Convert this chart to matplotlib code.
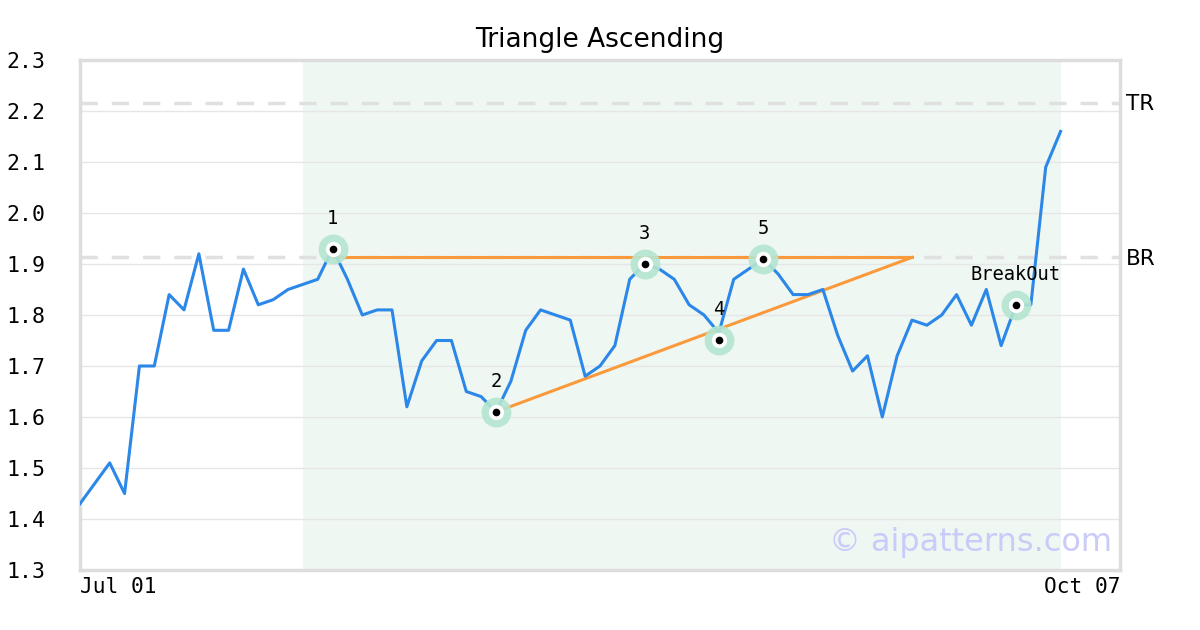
import matplotlib
matplotlib.use("Agg")
import matplotlib.pyplot as plt

# ---- data ----
prices = [1.43, 1.47, 1.51, 1.45, 1.70, 1.70, 1.84, 1.81, 1.92, 1.77,
          1.77, 1.89, 1.82, 1.83, 1.85, 1.86, 1.87, 1.93, 1.87, 1.80,
          1.81, 1.81, 1.62, 1.71, 1.75, 1.75, 1.65, 1.64, 1.61, 1.67,
          1.77, 1.81, 1.80, 1.79, 1.68, 1.70, 1.74, 1.87, 1.90, 1.89,
          1.87, 1.82, 1.80, 1.765, 1.87, 1.89, 1.91, 1.88, 1.84, 1.84,
          1.85, 1.76, 1.69, 1.72, 1.60, 1.72, 1.79, 1.78, 1.80, 1.84,
          1.78, 1.85, 1.74, 1.82, 1.82, 2.09, 2.16]
x_idx = list(range(len(prices)))
x_labels = ["Jul 01", "Oct 07"]
x_limits = [0, 70]

pivot_idx = [17, 28, 38, 43, 46, 63]
pivot_val = [1.93, 1.61, 1.90, 1.75, 1.91, 1.82]
pivot_lbl = ["1", "2", "3", "4", "5", "BreakOut"]

res_x = [17, 56]
res_y = [1.913, 1.913]
sup_x = [28, 56]
sup_y = [1.61, 1.913]

level_names = ["TR", "BR"]
level_vals = [2.216, 1.913]

shade_range = [15, 66]
y_ticks = [1.3, 1.4, 1.5, 1.6, 1.7, 1.8, 1.9, 2.0, 2.1, 2.2, 2.3]

title = "Triangle Ascending"
watermark = "© aipatterns.com"

# ---- style ----
BLUE = "#2b87e8"
ORANGE = "#fa9a3c"
SHADE = "#eff7f3"
GRID = "#e6e6e6"
FRAME = "#dddddd"
MONO = "DejaVu Sans Mono"

fig = plt.figure(figsize=(12, 6.3), dpi=100)
ax = fig.add_axes([80 / 1200, 60 / 630, 1040 / 1200, 510 / 630])

ax.set_xlim(*x_limits)
ax.set_ylim(y_ticks[0], y_ticks[-1])

ax.axvspan(shade_range[0], shade_range[1], color=SHADE, zorder=0, lw=0)
ax.set_yticks(y_ticks)
ax.set_yticklabels([f"{v:.1f}" for v in y_ticks], family=MONO, fontsize=15.5)
ax.yaxis.grid(True, color=GRID, lw=1, zorder=0.5)
ax.set_axisbelow(True)
ax.tick_params(axis="y", length=0, pad=25)

ax.set_xticks(x_limits)
xt = ax.set_xticklabels(x_labels, family=MONO, fontsize=15.2)
xt[0].set_horizontalalignment("left")
xt[1].set_horizontalalignment("right")
ax.tick_params(axis="x", length=0, pad=5)

for s in ax.spines.values():
    s.set_color(FRAME)
    s.set_linewidth(2.5)

for name, v in zip(level_names, level_vals):
    ax.axhline(v, color="#e0e0e0", lw=2.5, dashes=(5, 4), zorder=1)
    ax.annotate(name, xy=(1, v), xycoords=("axes fraction", "data"),
                xytext=(4, -1), textcoords="offset points",
                ha="left", va="center", fontsize=15.5, color="black")

ax.plot(res_x, res_y, color=ORANGE, lw=2.2, zorder=2)
ax.plot(sup_x, sup_y, color=ORANGE, lw=2.2, zorder=2)

ax.plot(x_idx, prices, color=BLUE, lw=2.2, zorder=3)

ax.plot(pivot_idx, pivot_val, "o", ms=21.5, color="#b5e6d0", alpha=0.9, mec="none", zorder=4)
ax.plot(pivot_idx, pivot_val, "o", ms=11, color="white", mec="none", zorder=5)
ax.plot(pivot_idx, pivot_val, "o", ms=5.5, color="black", mec="none", zorder=6)

for xi, yv, lb in zip(pivot_idx, pivot_val, pivot_lbl):
    ax.annotate(lb, xy=(xi, yv), xytext=(0, 22), textcoords="offset points",
                ha="center", va="center", fontsize=13.5, family=MONO, color="black",
                zorder=7)

ax.text(0.992, 0.053, watermark, transform=ax.transAxes, ha="right", va="center",
        fontsize=23, color="#cbcbfa", zorder=8)

fig.text(0.5, 1 - 40 / 630, title, ha="center", va="center", fontsize=19)

fig.savefig("out.png", dpi=100, facecolor="white")
